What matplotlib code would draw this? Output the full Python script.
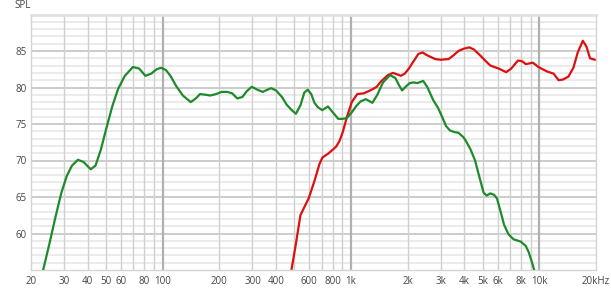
import matplotlib
matplotlib.use("Agg")
import matplotlib.pyplot as plt
from matplotlib.ticker import FixedLocator, NullFormatter

# Woofer (green) response: Hz, dB SPL
woofer_f = [22.5, 23.2, 25, 27, 29, 31, 33, 35.5, 38, 41.5, 44, 47, 50, 54, 58, 63,
            69.5, 75, 81, 87, 93, 98, 104, 110, 118, 128, 141, 150, 158, 170, 179, 192,
            206, 220, 234, 249, 265, 280, 297, 318, 340, 360, 377, 400, 430, 457, 485,
            510, 540, 565, 590, 615, 640, 667, 704, 755, 800, 857, 900, 950, 1010,
            1070, 1126, 1200, 1300, 1380, 1480, 1614, 1720, 1800, 1869, 1950, 2050,
            2153, 2250, 2420, 2550, 2730, 2900, 3070, 3200, 3360, 3540, 3720, 3950,
            4050, 4300, 4560, 4800, 5060, 5250, 5500, 5750, 5960, 6200, 6500, 6860,
            7300, 7960, 8470, 8800, 9100, 9370, 9600]
woofer_db = [54.0, 55.0, 58.5, 62.3, 65.6, 67.9, 69.3, 70.1, 69.8, 68.8, 69.3, 71.5, 74.2, 77.4, 79.8, 81.6,
             82.8, 82.6, 81.6, 81.9, 82.5, 82.7, 82.4, 81.6, 80.2, 78.9, 78.0, 78.5, 79.1, 79.0, 78.9, 79.1,
             79.4, 79.4, 79.2, 78.5, 78.7, 79.5, 80.1, 79.7, 79.4, 79.7, 79.9, 79.6, 78.7, 77.6, 76.9,
             76.4, 77.6, 79.3, 79.7, 79.1, 77.9, 77.3, 76.9, 77.4, 76.6, 75.7, 75.7, 75.8, 76.6,
             77.5, 78.1, 78.4, 77.9, 79.0, 80.7, 81.7, 81.3, 80.3, 79.6, 80.1, 80.6,
             80.7, 80.6, 80.9, 80.0, 78.3, 77.2, 75.8, 74.7, 74.1, 73.9, 73.8, 73.2,
             72.8, 71.6, 70.0, 67.8, 65.6, 65.2, 65.5, 65.3, 64.8, 63.2, 61.2, 59.9,
             59.2, 58.9, 58.3, 57.4, 56.2, 55.1, 54.0]

# Tweeter (red) response
tweeter_f = [475, 483, 510, 539, 570, 596, 640, 680, 705, 762, 834, 870, 905, 950,
             1010, 1080, 1170, 1240, 1300, 1370, 1440, 1570, 1670, 1760, 1840, 1930,
             2030, 2150, 2280, 2400, 2500, 2640, 2800, 2990, 3300, 3500, 3720, 3950,
             4250, 4500, 4850, 5200, 5500, 6080, 6670, 7100, 7700, 8100, 8480, 9240,
             9900, 10970, 11910, 12660, 13400, 14280, 15170, 16000, 17020, 17800, 18590,
             19750]
tweeter_db = [54.0, 55.0, 58.6, 62.5, 63.8, 64.8, 67.2, 69.5, 70.4, 71.0, 71.9, 72.7, 73.9, 75.9,
              78.0, 79.1, 79.2, 79.5, 79.75, 80.1, 80.8, 81.7, 82.0, 81.8, 81.6, 81.9,
              82.6, 83.6, 84.6, 84.8, 84.5, 84.2, 83.9, 83.8, 83.9, 84.4, 85.0, 85.3,
              85.5, 85.2, 84.4, 83.6, 83.0, 82.6, 82.1, 82.6, 83.7, 83.6, 83.2, 83.4,
              82.8, 82.2, 81.9, 81.0, 81.1, 81.5, 82.7, 84.8, 86.4, 85.6, 84.0,
              83.8]

x_major = [20, 30, 40, 50, 60, 80, 100, 200, 300, 400, 600, 800, 1000, 2000, 3000,
           4000, 5000, 6000, 8000, 10000, 20000]
x_labels = ["20", "30", "40", "50", "60", "80", "100", "200", "300", "400", "600", "800",
            "1k", "2k", "3k", "4k", "5k", "6k", "8k", "10k", "20kHz"]
y_major = [60, 65, 70, 75, 80, 85]

plt.rcParams["font.family"] = ["Open Sans", "DejaVu Sans"]

fig = plt.figure(figsize=(6.11, 2.89), dpi=100)
ax = fig.add_axes([31 / 611, 1 - 270 / 289, 565 / 611, 255.5 / 289])

ax.set_xscale("log")
ax.set_xlim(20, 20000)
ax.set_ylim(55, 90)

# grid: every 1 dB light, every 5 dB a bit darker; verticals on 1-2-3..9 per decade
for v in range(56, 90):
    if v % 5 == 0:
        ax.axhline(v, color="#c4c4c4", lw=1.2, zorder=0)
    else:
        ax.axhline(v, color="#e8e8e8", lw=1.2, zorder=0)
verts = [m * 10 ** d for d in range(1, 5) for m in range(1, 10) if 20 < m * 10 ** d < 20000]
for f in verts:
    if f in (100, 1000, 10000):
        ax.axvline(f, color="#b0b0b0", lw=1.6, zorder=0)
    else:
        ax.axvline(f, color="#d0d0d0", lw=1.0, zorder=0)

ax.plot(woofer_f, woofer_db, color="#1f8a2a", lw=1.6, zorder=3)
ax.plot(tweeter_f, tweeter_db, color="#dd1010", lw=1.6, zorder=2)

ax.xaxis.set_major_locator(FixedLocator(x_major))
ax.xaxis.set_minor_formatter(NullFormatter())
ax.xaxis.set_minor_locator(FixedLocator([]))
ax.set_xticklabels(x_labels)
ax.set_yticks(y_major)
ax.tick_params(length=0, labelsize=7, colors="#444444", pad=4)
ax.tick_params(axis="y", pad=3)

for s in ax.spines.values():
    s.set_color("#d4d4d4")
    s.set_linewidth(1.0)
ax.spines["top"].set_color("#e0e0e0")
ax.spines["top"].set_linewidth(2.0)

fig.text(14 / 611, 1 - 6 / 289, "SPL", fontsize=7, color="#444444", va="center", ha="left")

fig.savefig("out.png", dpi=100)
